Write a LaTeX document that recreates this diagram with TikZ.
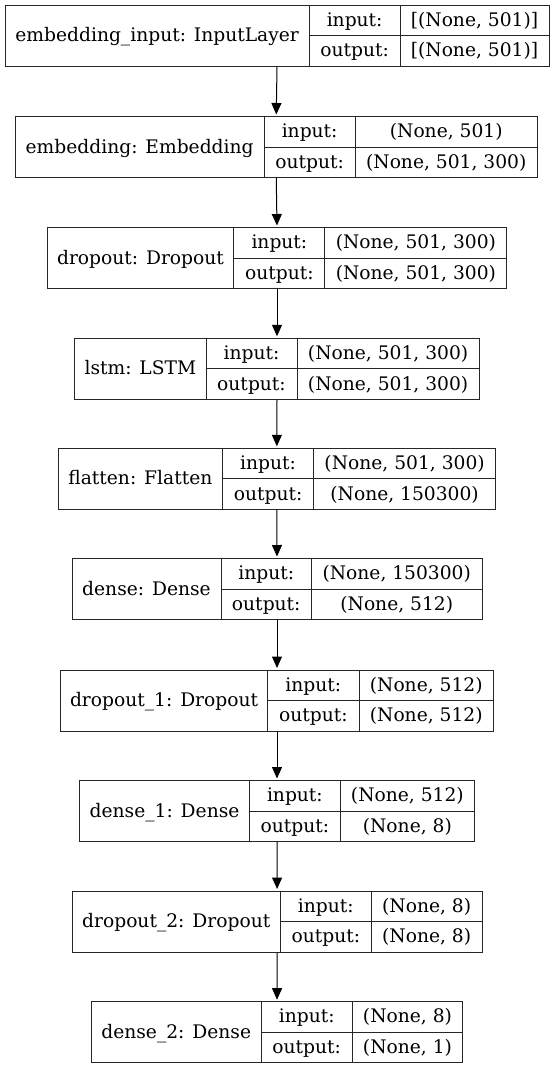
\documentclass[tikz,border=0pt]{standalone}
\usepackage{fontspec}
\setmainfont{DejaVu Serif}
\usetikzlibrary{arrows.meta}
\tikzset{
  rec/.style={draw=black!85, line width=1pt, rectangle, inner sep=0pt, minimum height=61pt},
  div/.style={draw=black!85, line width=1pt},
  txt/.style={anchor=base, inner sep=0pt, font=\fontsize{18.67}{22}\selectfont},
  arr/.style={draw=black, line width=1pt, shorten >=1.5pt, -{Triangle[length=11.5pt,width=10pt]}}
}
\newcommand\layer[9]{%
  \pgfmathsetmacro\lw{#6-#3}%
  \pgfmathsetmacro\lc{(#3+#6)/2}%
  \pgfmathsetmacro\lm{#2+30.5}%
  \pgfmathsetmacro\lb{#2+61}%
  \pgfmathsetmacro\xa{(#3+#4)/2}%
  \pgfmathsetmacro\xb{(#4+#5)/2}%
  \pgfmathsetmacro\xc{(#5+#6)/2}%
  \pgfmathsetmacro\ya{#2+15.25+6}%
  \pgfmathsetmacro\yb{#2+45.75+6}%
  \pgfmathsetmacro\yl{#2+30.5+6}%
  \node[rec, minimum width=\lw pt] (#1) at (\lc,\lm) {};
  \draw[div] (#4,#2) -- (#4,\lb);
  \draw[div] (#5,#2) -- (#5,\lb);
  \draw[div] (#4,\lm) -- (#6,\lm);
  \node[txt] (#1n) at (\xa,\yl) {#7};
  \node[txt] (#1i) at (\xb,\ya) {input:};
  \node[txt] (#1o) at (\xb,\yb) {output:};
  \node[txt] (#1iv) at (\xc,\ya) {#8};
  \node[txt] (#1ov) at (\xc,\yb) {#9};
}
\begin{document}
\begin{tikzpicture}[x=1pt,y=-1pt]
\useasboundingbox (0,0) rectangle (553,1069);
\layer{A}{5}{5}{309.3}{400}{549}{embedding\_input: InputLayer}{[(None, 501)]}{[(None, 501)]}
\layer{B}{116.5}{15}{264.3}{355}{537.5}{embedding: Embedding}{(None, 501)}{(None, 501, 300)}
\layer{C}{227.5}{47.1}{233.9}{324.9}{506.9}{dropout: Dropout}{(None, 501, 300)}{(None, 501, 300)}
\layer{D}{338.3}{74.8}{206}{297}{479.2}{lstm: LSTM}{(None, 501, 300)}{(None, 501, 300)}
\layer{E}{448.3}{58}{222.7}{313.5}{495.7}{flatten: Flatten}{(None, 501, 300)}{(None, 150300)}
\layer{F}{558.5}{72}{221}{311.5}{482}{dense: Dense}{(None, 150300)}{(None, 512)}
\layer{G}{670}{60.5}{267.7}{359}{493.5}{dropout\_1: Dropout}{(None, 512)}{(None, 512)}
\layer{H}{780.5}{79.7}{249.4}{340.4}{474.3}{dense\_1: Dense}{(None, 512)}{(None, 8)}
\layer{I}{891}{72.2}{280.3}{371.3}{482}{dropout\_2: Dropout}{(None, 8)}{(None, 8)}
\layer{J}{1001.7}{91.3}{261.2}{352.2}{462.7}{dense\_2: Dense}{(None, 8)}{(None, 1)}
\draw[arr] (A.south) -- (B.north);
\draw[arr] (B.south) -- (C.north);
\draw[arr] (C.south) -- (D.north);
\draw[arr] (D.south) -- (E.north);
\draw[arr] (E.south) -- (F.north);
\draw[arr] (F.south) -- (G.north);
\draw[arr] (G.south) -- (H.north);
\draw[arr] (H.south) -- (I.north);
\draw[arr] (I.south) -- (J.north);
\end{tikzpicture}
\end{document}
